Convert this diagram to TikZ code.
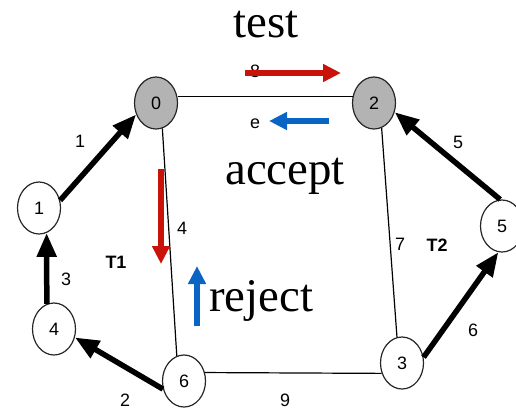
\documentclass[tikz,border=0pt]{standalone}
\usepackage{fontspec}
\setmainfont{Liberation Serif}
\setsansfont{Liberation Sans}
\usetikzlibrary{arrows.meta,shapes.geometric}
\definecolor{vertexGray}{HTML}{B3B3B3}
\definecolor{testRed}{HTML}{C8120A}
\definecolor{answerBlue}{HTML}{0A64C4}

\begin{document}
\begin{tikzpicture}[x=1bp,y=-1bp,font=\sffamily\fontsize{18}{20}\selectfont,
  treeedge/.style={line width=5.5bp,-{Triangle[length=24bp,width=19bp]}},
  msgarrow/.style={line width=5.5bp,-{Triangle[length=18bp,width=17bp]}},
  bigword/.style={font=\rmfamily\fontsize{47}{50}\selectfont,anchor=base,inner sep=0pt}]
  \useasboundingbox (0,0) rectangle (516,409);
  % vertices of the graph
  \foreach \x/\y/\name/\col in {
    156/103/0/vertexGray,
    374/103/2/vertexGray,
    39/208/1/white,
    54/329/4/white,
    184/381/6/white,
    402/363/3/white,
    502/226/5/white}
  {
    \node[draw=black!85,line width=1.2bp,ellipse,fill=\col,minimum width=43bp,minimum height=52bp,inner sep=0pt] (v\name) at (\x,\y) {\name};
  }
  % plain edges
  \draw[line width=1.2bp] (v0.16) -- (v2.164);
  \draw[line width=1.2bp] (v0.284) -- (v6.106);
  \draw[line width=1.2bp] (v2.287) -- (v3.101);
  \draw[line width=1.2bp] (v6.22) -- (v3.207);
  % fragment edges
  \draw[treeedge] (v1.20) -- (v0.210);
  \draw[treeedge] (v4.106) -- (v1.287);
  \draw[treeedge] (v6.201) -- (v4.338);
  \draw[treeedge] (v3.15) -- (v5.262);
  \draw[treeedge] (v5.94) -- (v2.336);
  % weights
  \foreach \x/\y/\name/\txt in {
    80/141/w1/1,
    66/279/w3/3,
    125/400/w2/2,
    285/400/w9/9,
    182/228/w4/4,
    400/244/w7/7,
    473/330/w6/6,
    458/142/w5/5,
    255/71/w8/8,
    255/124/we/e}
  {
    \node (\name) at (\x,\y) {\txt};
  }
  \node[font=\sffamily\bfseries\fontsize{18}{20}\selectfont] (T1) at (116,262) {T1};
  \node[font=\sffamily\bfseries\fontsize{18}{20}\selectfont] (T2) at (437,245) {T2};
  % messages
  \node[bigword] (test) at (266,37) {test};
  \node[bigword] (accept) at (285,184) {accept};
  \node[bigword] (reject) at (261,311) {reject};
  \coordinate (testA) at (245,73);
  \coordinate (testB) at (341,73);
  \coordinate (acceptA) at (329,121);
  \coordinate (acceptB) at (269,121);
  \coordinate (downA) at (161,169);
  \coordinate (downB) at (161,264);
  \coordinate (upA) at (197,326);
  \coordinate (upB) at (197,266);
  \draw[msgarrow,testRed] (testA) -- (testB);
  \draw[msgarrow,answerBlue] (acceptA) -- (acceptB);
  \draw[msgarrow,testRed] (downA) -- (downB);
  \draw[msgarrow,answerBlue] (upA) -- (upB);
\end{tikzpicture}
\end{document}
